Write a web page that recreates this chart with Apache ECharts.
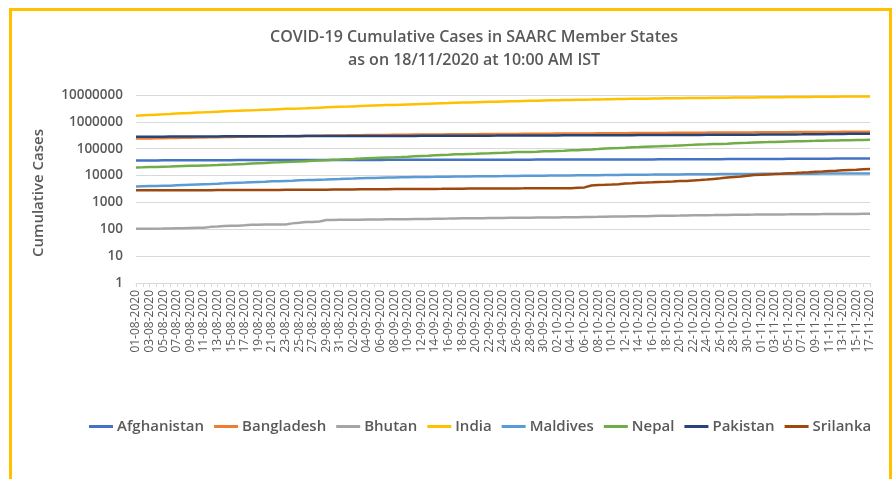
<!DOCTYPE html>
<html>
<head>
<meta charset="utf-8">
<script src="https://cdn.jsdelivr.net/npm/echarts@6/dist/echarts.min.js"></script>
<style>html,body{margin:0;padding:0;background:#fff;}#c{width:894px;height:479px;}</style>
</head>
<body>
<div id="c"></div>
<script>
const dates = [
"01-08-2020","02-08-2020","03-08-2020","04-08-2020","05-08-2020","06-08-2020","07-08-2020","08-08-2020","09-08-2020","10-08-2020",
"11-08-2020","12-08-2020","13-08-2020","14-08-2020","15-08-2020","16-08-2020","17-08-2020","18-08-2020","19-08-2020","20-08-2020",
"21-08-2020","22-08-2020","23-08-2020","24-08-2020","25-08-2020","26-08-2020","27-08-2020","28-08-2020","29-08-2020","30-08-2020","31-08-2020",
"01-09-2020","02-09-2020","03-09-2020","04-09-2020","05-09-2020","06-09-2020","07-09-2020","08-09-2020","09-09-2020","10-09-2020",
"11-09-2020","12-09-2020","13-09-2020","14-09-2020","15-09-2020","16-09-2020","17-09-2020","18-09-2020","19-09-2020","20-09-2020",
"21-09-2020","22-09-2020","23-09-2020","24-09-2020","25-09-2020","26-09-2020","27-09-2020","28-09-2020","29-09-2020","30-09-2020",
"01-10-2020","02-10-2020","03-10-2020","04-10-2020","05-10-2020","06-10-2020","07-10-2020","08-10-2020","09-10-2020","10-10-2020",
"11-10-2020","12-10-2020","13-10-2020","14-10-2020","15-10-2020","16-10-2020","17-10-2020","18-10-2020","19-10-2020","20-10-2020",
"21-10-2020","22-10-2020","23-10-2020","24-10-2020","25-10-2020","26-10-2020","27-10-2020","28-10-2020","29-10-2020","30-10-2020","31-10-2020",
"01-11-2020","02-11-2020","03-11-2020","04-11-2020","05-11-2020","06-11-2020","07-11-2020","08-11-2020","09-11-2020","10-11-2020",
"11-11-2020","12-11-2020","13-11-2020","14-11-2020","15-11-2020","16-11-2020","17-11-2020"
];

const afghanistan = [
36710,36710,36747,36782,36829,36896,37015,37054,37054,37162,37269,37345,37424,37431,37551,37596,37599,37599,37599,37856,37894,37953,37999,38054,38070,38113,38129,38140,38143,38162,38165,
38196,38243,38288,38304,38324,38398,38494,38520,38544,38572,38606,38641,38716,38772,38815,38855,38872,38883,38919,39044,39074,39096,39145,39170,39186,39192,39227,39233,39254,39268,
39285,39290,39297,39341,39422,39486,39548,39616,39693,39703,39799,39870,39928,39994,40026,40073,40141,40200,40287,40369,40510,40626,40687,40768,40833,40937,41032,41145,41268,41334,41425,
41501,41633,41728,41814,41935,41975,42033,42092,42297,42463,42609,42795,42969,43035,43240,43403,43628
];
const bangladesh = [
237661,240746,242102,244020,246674,249651,252502,255113,257600,260507,263503,266498,269115,271881,274525,276549,279144,282344,285091,287959,290360,292625,294598,297083,299628,302147,304583,306794,308925,310822,312996,
314946,317528,319686,321615,323565,325157,327359,329251,331078,332970,334762,336044,337520,339332,341056,342671,344264,345805,346919,348180,349635,350621,351916,353844,355384,356767,357873,359148,360555,362043,
363479,364987,366383,367565,369183,370749,372359,373873,375034,377073,378266,379738,381275,382959,384559,386086,387295,388569,390206,391586,392969,394827,396413,397507,398815,400251,401586,403079,404760,405794,406364,
407684,409252,410988,412647,414164,415454,416006,417475,418764,420238,421921,423620,425353,426486,428965,430496,432333
];
const bhutan = [
105,105,105,105,106,108,110,110,112,113,113,123,127,132,135,136,141,147,148,151,152,152,152,166,175,185,186,194,221,224,227,
227,227,228,229,229,231,234,236,236,237,241,243,244,247,248,250,253,257,258,258,260,262,263,264,266,268,269,271,273,274,
275,276,279,280,282,286,289,291,294,298,300,301,303,305,309,313,316,318,322,324,327,330,331,335,338,342,343,345,347,350,352,
356,357,358,359,361,364,365,365,366,367,370,370,371,372,373,375,376
];
const india = [
1695988,1750723,1803695,1855745,1908254,1964536,2027074,2088611,2153010,2215074,2268675,2329638,2396637,2461190,2526192,2589682,2647663,2702742,2767273,2836925,2905823,2975701,3044940,3106348,3167323,3234474,3310234,3387500,3463972,3542733,3621245,
3691166,3769523,3853406,3936747,4023179,4113811,4204613,4280422,4370128,4465863,4562414,4659984,4754356,4846427,4930236,5020359,5118253,5214677,5308014,5400619,5487580,5562663,5646010,5732518,5818570,5903932,5992532,6074702,6145291,6225763,
6312584,6394068,6473544,6549373,6623815,6685082,6757131,6835655,6906151,6979423,7053806,7120538,7175880,7239389,7307097,7370468,7432680,7494551,7550273,7597063,7651107,7706946,7761312,7814682,7864811,7909959,7946429,7990322,8040203,8088851,8137119,
8184082,8229313,8267623,8313876,8364086,8411724,8462080,8507754,8553657,8591730,8636011,8683916,8728795,8773479,8814579,8845127,8874290
];
const maldives = [
3953,4011,4055,4082,4149,4213,4343,4457,4567,4680,4781,4872,4994,5128,5278,5402,5497,5630,5765,5902,6091,6201,6323,6445,6667,6770,6886,7020,7113,7285,7440,
7650,7790,7950,8070,8180,8300,8416,8486,8590,8680,8766,8846,8919,8974,9048,9105,9178,9235,9290,9353,9400,9450,9520,9570,9628,9696,9759,9807,9856,9926,
10013,10070,10120,10159,10230,10291,10339,10386,10460,10510,10565,10621,10681,10741,10797,10851,10911,10965,11007,11053,11098,11147,11198,11247,11292,11343,11399,11434,11478,11520,11561,
11591,11623,11659,11681,11715,11738,11769,11784,11803,11828,11849,11863,11891,11918,11940,11964,11990
];
const nepal = [
20086,20332,20750,21009,21390,21750,22214,22592,22972,23310,23948,24432,24956,25550,26018,26660,27241,28257,28938,29645,30483,31116,31935,32678,33533,34417,35529,36456,37340,38561,39460,
40529,41649,42876,44235,45276,46256,47235,48138,49218,50464,51919,53120,54158,56788,58327,59573,61593,62796,64121,65276,66631,67803,69300,70613,72444,74745,75683,76257,77817,79728,
80468,82592,84570,86823,88373,91844,94253,96948,100922,103922,105684,107755,112757,115104,118201,121025,123422,126119,128550,132246,136036,139129,143433,145482,148509,150984,154675,159830,163650,167142,170743,
173567,176500,179614,182923,186137,189155,191636,193742,196558,199665,202325,204242,206193,208291,210110,211620,213505
];
const pakistan = [
279699,280029,280461,281136,281863,282645,283487,284121,284660,285191,285921,286674,287300,288047,288717,289215,289832,290445,290958,291588,292174,292765,293261,293711,294193,294638,295053,295372,295636,295849,296149,
296590,297014,297512,297956,298025,298509,298903,299233,299659,300030,300371,300955,301481,302020,302424,302947,303634,304386,305031,305671,306304,306886,307418,308217,308799,309581,310275,310841,311516,312263,
312806,313431,314616,315260,315727,316121,316934,317588,318266,318932,319317,319848,320463,321218,321877,322452,323019,323452,324084,324744,325480,326216,327063,327895,328602,329375,330200,331108,332186,332993,333970,
335093,336260,337573,338875,340251,341753,343189,344848,346476,348184,350275,352296,354461,356904,359032,361082,363380
];
const srilanka = [
2815,2819,2823,2828,2834,2839,2840,2841,2844,2844,2854,2859,2874,2882,2886,2889,2894,2902,2902,2909,2923,2930,2953,2959,2965,2965,2982,2988,2992,3003,3012,
3029,3049,3081,3106,3108,3115,3121,3132,3143,3151,3160,3171,3188,3195,3204,3222,3235,3254,3271,3283,3287,3300,3313,3320,3324,3333,3341,3354,3363,3380,
3380,3388,3395,3402,3513,3626,4252,4488,4523,4628,4752,5038,5170,5354,5475,5625,5811,5863,6000,6287,6306,6613,6843,7153,7521,7872,8413,8870,9205,9791,10424,
10663,11060,11335,11744,12293,12571,12970,13419,13929,14285,14715,15135,15722,16192,16582,17287,17560
];

const seriesNames = ["Afghanistan","Bangladesh","Bhutan","India","Maldives","Nepal","Pakistan","Srilanka"];
const seriesData = [afghanistan, bangladesh, bhutan, india, maldives, nepal, pakistan, srilanka];
const seriesColors = ["#4472C4","#ED7D31","#A5A5A5","#FFC000","#5B9BD5","#70AD47","#264478","#9E480E"];

const FONT = "'Open Sans', sans-serif";
const chart = echarts.init(document.getElementById('c'), null, {renderer: 'canvas'});
chart.setOption({
  animation: false,
  backgroundColor: '#ffffff',
  color: seriesColors,
  graphic: [{
    type: 'rect', silent: true, z: 100,
    shape: {x: 10.5, y: 9.5, width: 880, height: 520},
    style: {fill: 'none', stroke: '#FFC000', lineWidth: 3}
  }],
  title: {
    text: 'COVID-19 Cumulative Cases in SAARC Member States\nas on 18/11/2020 at 10:00 AM IST',
    left: 469, top: 21,
    textAlign: 'center',
    textStyle: {fontFamily: FONT, fontSize: 16, fontWeight: 600, color: '#595959', lineHeight: 23, align: 'center'}
  },
  legend: {
    data: seriesNames,
    top: 414, left: 89, padding: [5, 0, 0, 0],
    icon: 'rect', itemWidth: 24, itemHeight: 3, itemGap: 10,
    textStyle: {fontFamily: FONT, fontSize: 15, fontWeight: 600, color: '#595959', padding: [0,0,0,-1]}
  },
  grid: {left: 136, right: 24, top: 95, bottom: 196, containLabel: false},
  xAxis: {
    type: 'category', data: dates, boundaryGap: false,
    axisLine: {lineStyle: {color: '#d9d9d9', width: 1}},
    axisTick: {show: true, interval: 0, length: 4, lineStyle: {color: '#d9d9d9'}},
    axisLabel: {interval: 1, rotate: 90, margin: 7, fontFamily: FONT, fontSize: 12, color: '#595959'},
    splitLine: {show: false}
  },
  yAxis: {
    type: 'log', logBase: 10, min: 1, max: 10000000,
    interval: 1,
    name: 'Cumulative Cases', nameLocation: 'middle', nameGap: 90,
    nameTextStyle: {fontFamily: FONT, fontSize: 15, fontWeight: 600, color: '#595959', padding: [0,0,0,-8]},
    axisLine: {show: false}, axisTick: {show: false},
    axisLabel: {fontFamily: FONT, fontSize: 13.5, fontWeight: 600, color: '#595959', margin: 13,
      formatter: function (v) { return String(Math.round(v)); }},
    splitLine: {lineStyle: {color: '#d9d9d9', width: 1}}
  },
  series: seriesNames.map(function (n, i) {
    return {name: n, type: 'line', data: seriesData[i], symbol: 'none', showSymbol: false,
      lineStyle: {width: 2.5, color: seriesColors[i]}, itemStyle: {color: seriesColors[i]}};
  })
});
</script>
</body>
</html>
